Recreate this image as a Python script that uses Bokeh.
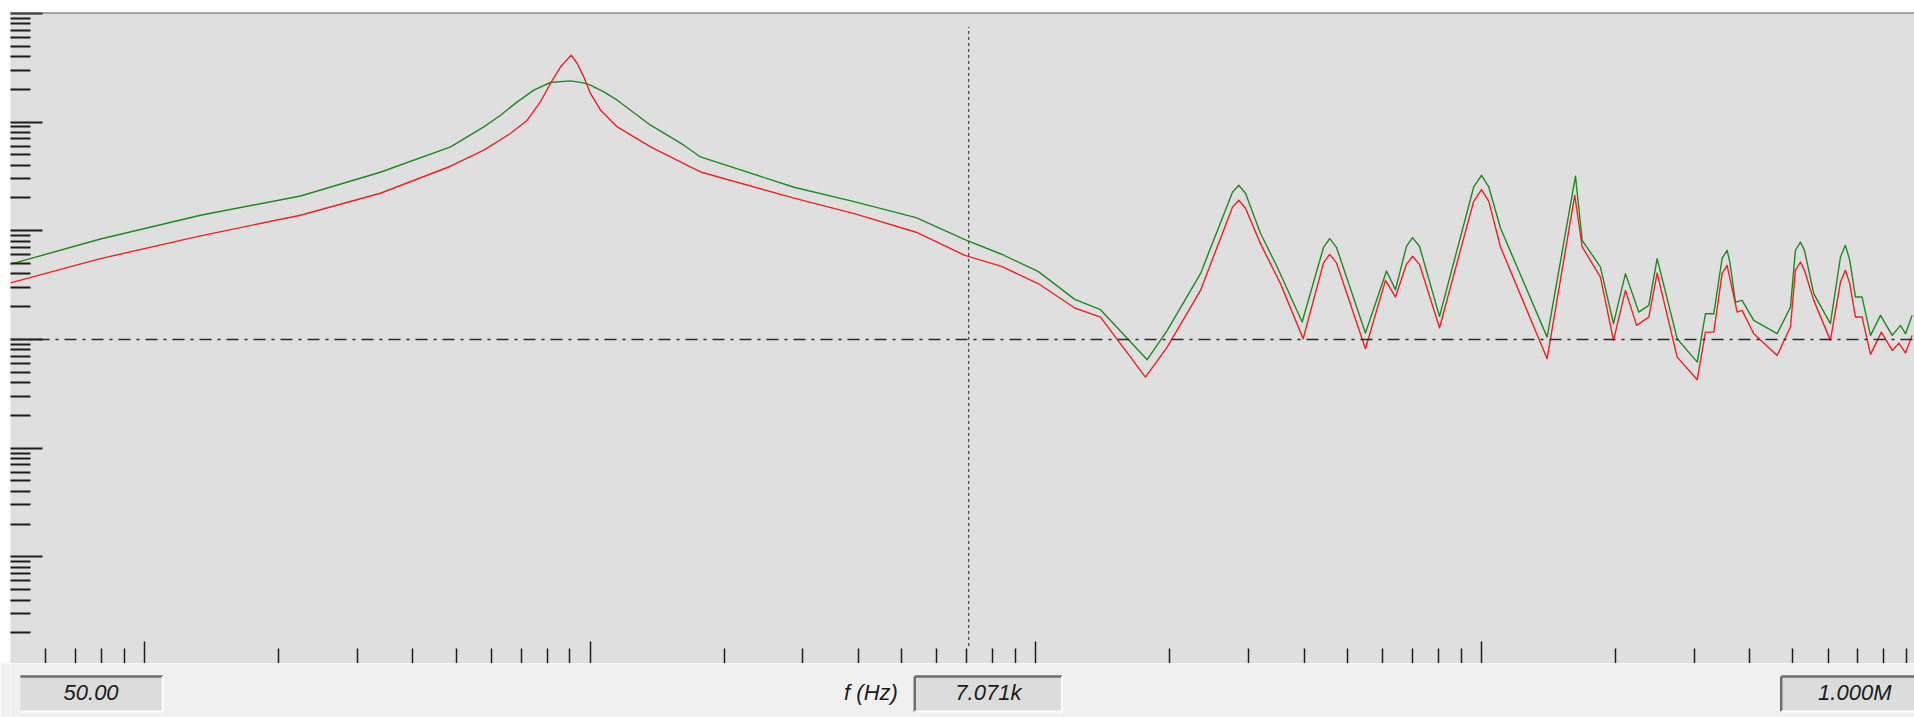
import numpy as np
from bokeh.plotting import figure
from bokeh.models import FixedTicker, Span, Range1d
from bokeh.layouts import column
from bokeh.core.properties import value
from bokeh.embed import file_html
from bokeh.resources import INLINE

# ---------------- data (frequency in Hz, magnitude in dB) ----------------
freq_green = [50, 79.6, 133.5, 223.8, 338, 486, 577, 629, 686, 747, 814, 903, 967, 1001, 1073,
              1150, 1275, 1366, 1489, 1622, 1768, 2866, 3931, 5386, 6932, 8374, 10120, 12230, 13970,
              17780, 19720, 23420, 27630, 28540, 29550, 31930, 34810, 39600, 44230, 45670, 47290,
              54920, 61240, 64150, 67890, 70030, 72620, 80530, 96100, 100050, 103900, 110350,
              140450, 162600, 168350, 185000, 197900, 210500, 225500, 237500, 248000, 275000,
              305000, 318300, 332300, 346950, 356000, 361100, 371600, 384700, 408500, 461000,
              493900, 506700, 520000, 530900, 557000, 607000, 639500, 656000, 671000, 691000,
              715000, 747000, 786500, 835500, 872000, 895000, 926000]
db_green = [13.85, 18.47, 22.85, 26.39, 30.76, 35.41, 39.10, 41.25, 43.70, 45.86, 47.27, 47.57, 47.20,
            46.78, 45.54, 44.01, 41.25, 39.41, 37.57, 35.73, 33.57, 28.0, 25.3, 22.41, 18.36, 15.67,
            12.52, 7.37, 5.47, -3.74, 1.66, 12.10, 27.07, 28.36, 26.89, 19.52, 13.31, 3.19, 16.94,
            18.55, 16.94, 1.16, 12.58, 9.15, 17.13, 18.73, 17.13, 4.24, 28.05, 30.20, 28.05, 20.5,
            0.42, 30.02, 18.23, 13.31, 2.89, 12.10, 5.03, 6.26, 14.86, 0.13,
            -4.18, 4.73, 4.73, 14.92, 16.39, 14.18, 6.87, 7.18, 3.50, 1.05,
            5.95, 16.39, 17.92, 16.39, 8.42, 2.89, 15.16, 17.31, 14.55, 7.79,
            7.79, 0.74, 4.42, 0.74, 2.58, 1.05, 4.42]

freq_red = [50, 79.6, 133.5, 223.8, 338, 486, 577, 662, 722, 773, 814, 858, 906, 935, 967, 1001,
            1055, 1150, 1366, 1622, 1768, 2866, 3931, 5386, 6932, 8374, 10120, 12230, 13970, 17620,
            19720, 23420, 27630, 28540, 29550, 31930, 35400, 39810, 44230, 45670, 47290, 54920,
            60920, 64150, 67890, 70030, 72620, 80530, 96100, 100050, 103900, 110350, 140450,
            162000, 168350, 185000, 197900, 210500, 223000, 237500, 248000, 275000, 305000,
            318300, 332300, 346950, 356000, 361100, 375000, 384700, 408500, 461000, 493900,
            506700, 520000, 530900, 557000, 607000, 639500, 656000, 671000, 691000, 715000,
            747000, 790000, 835500, 865000, 895000, 926000]
db_red = [10.39, 14.86, 19.06, 22.85, 26.89, 31.86, 34.81, 37.88, 40.33, 43.70, 47.09, 50.15, 52.30,
          50.77, 48.31, 45.25, 42.17, 39.10, 35.41, 32.35, 30.81, 26.0, 23.1, 19.72, 15.45, 13.43,
          10.28, 5.78, 4.11, -6.94, -1.42, 9.02, 24.31, 25.60, 24.13, 17.62, 10.26, 0.13, 14.09,
          15.65, 14.09, -1.71, 10.87, 7.79, 13.81, 15.29, 13.81, 2.15, 25.41, 27.57, 25.41, 17.00,
          -3.55, 26.52, 17.00, 11.47, -0.18, 9.02, 2.58, 4.11, 12.21, -3.26, -7.42,
          1.34, 1.34, 12.15, 13.63, 11.23, 5.03, 5.34, 1.05, -2.95, 2.27,
          12.71, 14.24, 12.71, 7.18, -0.18, 10.55, 12.71, 10.26, 4.11, 4.11,
          -2.76, 1.34, -2.03, -0.68, -2.52, 0.74]

f_start = 50
f_view_end = 9.375e5         # visible part of the 50 Hz .. 1 MHz sweep
cursor_f = 7071
cursor_db = (-56.4, 57.5)
ref_level = 1.0              # 0 dB reference line
box_texts = ["50.00", "7.071k", "1.000M"]
axis_name = "f (Hz)"

# ---------------- derived ----------------
mag_green = 10 ** (np.array(db_green) / 20.0)
mag_red = 10 ** (np.array(db_red) / 20.0)
y_lo, y_hi = 10 ** -2.9816, 10 ** 3.0074

PLOT_BG = "#dfdfdf"
STRIP_BG = "#f0f0f0"
TICK = "#1c1c1c"

p = figure(width=1914, height=663, x_axis_type="log", y_axis_type="log",
           x_range=Range1d(f_start, f_view_end), y_range=Range1d(y_lo, y_hi),
           output_backend="svg", toolbar_location=None,
           min_border_left=10, min_border_right=0, min_border_top=12, min_border_bottom=0)
p.background_fill_color = PLOT_BG
p.border_fill_color = "white"
p.outline_line_color = None
p.xgrid.visible = False
p.ygrid.visible = False

decades = range(-4, 7)
majors = [10.0 ** d for d in decades]
minors = [k * 10.0 ** d for d in decades for k in range(2, 10)]
p.xaxis.ticker = FixedTicker(ticks=majors, minor_ticks=[t for t in minors if t > f_start * 1.01])
p.yaxis.ticker = FixedTicker(ticks=majors, minor_ticks=minors)
for ax in (p.xaxis[0], p.yaxis[0]):
    ax.major_label_text_font_size = "1px"
    ax.major_label_text_alpha = 0.0
    ax.major_label_standoff = 0
    ax.axis_line_color = None
    ax.major_tick_out = 0
    ax.minor_tick_out = 0
    ax.major_tick_line_color = TICK
    ax.minor_tick_line_color = TICK
p.xaxis.major_tick_in = 22
p.xaxis.minor_tick_in = 15
p.xaxis.major_tick_line_width = 1.5
p.xaxis.minor_tick_line_width = 1.5
p.yaxis.major_tick_in = 32
p.yaxis.minor_tick_in = 20
p.yaxis.major_tick_line_width = 2
p.yaxis.minor_tick_line_width = 2

# top border line of the scope area
p.add_layout(Span(location=y_hi, dimension="width", line_color="#5e5e5e", line_width=2))
# 0 dB reference line
p.add_layout(Span(location=ref_level, dimension="width", line_color="#2a2a2a",
                  line_width=1.5, line_dash="12 6 3 6"))
# cursor
p.segment(x0=[cursor_f], x1=[cursor_f],
          y0=[10 ** (cursor_db[0] / 20)], y1=[10 ** (cursor_db[1] / 20)],
          line_color="#222222", line_width=1, line_dash="3 3")

p.line(freq_green, mag_green, line_color="#1e8a1e", line_width=1.4, line_join="round")
p.line(freq_red, mag_red, line_color="#ee2222", line_width=1.4, line_join="round")

# ---------------- bottom strip with value boxes ----------------
s = figure(width=1914, height=54, x_range=Range1d(0, 1914), y_range=Range1d(717, 663),
           output_backend="svg", toolbar_location=None, min_border=0)
s.axis.visible = False
s.xgrid.visible = False
s.ygrid.visible = False
s.background_fill_color = STRIP_BG
s.border_fill_color = STRIP_BG
s.outline_line_color = None

box_left = [10, 909, 1780]
box_right = [153, 1057, 1928]
box_top, box_bottom = 676, 711
s.quad(left=box_left, right=box_right, top=box_top, bottom=box_bottom,
       fill_color="#dcdcdc", line_color=None)
# sunken look: dark top/left, light bottom/right
s.segment(x0=box_left, x1=box_right, y0=[box_top] * 3, y1=[box_top] * 3,
          line_color="#6e6e6e", line_width=2.5)
s.segment(x0=box_left[1:], x1=box_left[1:], y0=[box_top] * 2, y1=[box_bottom] * 2,
          line_color="#6e6e6e", line_width=2.5)
s.segment(x0=box_right[:2], x1=box_right[:2], y0=[box_top] * 2, y1=[box_bottom] * 2,
          line_color="#ffffff", line_width=2)
s.segment(x0=box_left, x1=box_right, y0=[box_bottom] * 3, y1=[box_bottom] * 3,
          line_color="#ffffff", line_width=2)

text_kw = dict(text_font=value("Liberation Sans"), text_font_style="italic",
               text_font_size="22px", text_color="#1a1a1a", text_baseline="middle")
s.text(x=[81, 983, 1854], y=[692] * 3, text=box_texts, text_align="center", **text_kw)
s.text(x=[892], y=[692], text=[axis_name], text_align="right", **text_kw)

layout = column(p, s, spacing=0)
open("out.html", "w").write(file_html(layout, INLINE))
